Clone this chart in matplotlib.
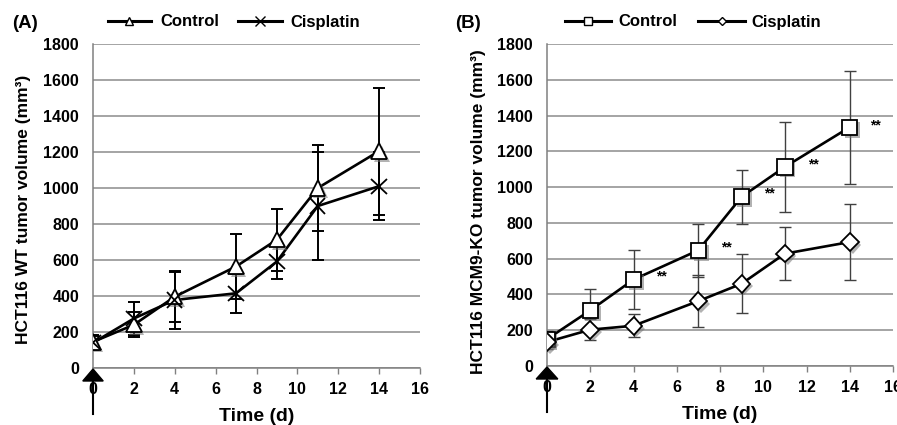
import numpy as np
import matplotlib
matplotlib.use('Agg')
import matplotlib.pyplot as plt
import matplotlib.patheffects as pe
from matplotlib.patches import Polygon
from matplotlib.lines import Line2D

plt.rcParams['font.family'] = ['Liberation Sans', 'DejaVu Sans']
plt.rcParams['font.weight'] = 'bold'

# data
days = [0, 2, 4, 7, 9, 11, 14]

wt_control = [145, 240, 396, 564, 713, 1000, 1205]
wt_control_err = [40, 70, 140, 182, 173, 240, 353]
wt_cis = [140, 275, 378, 415, 592, 900, 1010]
wt_cis_err = [40, 90, 160, 108, 100, 300, 190]

ko_control = [150, 311, 483, 647, 946, 1113, 1335]
ko_control_err = [45, 118, 165, 149, 150, 250, 315]
ko_cis = [134, 203, 225, 363, 460, 628, 693]
ko_cis_err = [40, 58, 65, 145, 165, 150, 215]

# significance marks (x, y) for panel B
star_x = [5.3, 8.3, 10.3, 12.3, 15.2]
star_y = [498, 660, 965, 1128, 1345]

xticks = list(range(0, 17, 2))
yticks = list(range(0, 1801, 200))

shadow = [pe.SimplePatchShadow(offset=(2, -2), shadow_rgbFace='0.45', alpha=0.55), pe.Normal()]

fig = plt.figure(figsize=(8.97, 4.25), dpi=100)
axA = fig.add_axes([93 / 897, 1 - 368 / 425, 327 / 897, 324 / 425])
axB = fig.add_axes([547 / 897, 1 - 366 / 425, 346 / 897, 322 / 425])


def series(ax, y, err, marker, ms, elw, ecol, cap):
    ax.errorbar(days, y, yerr=err, fmt='none', ecolor=ecol, elinewidth=elw,
                capsize=cap, capthick=elw, zorder=3)
    ax.plot(days, y, color='black', lw=1.9, zorder=4)
    ax.plot(days, y, ls='none', marker=marker, ms=ms, mfc='white', mec='black',
            mew=1.3, zorder=5, path_effects=shadow)


def style(ax, ylabel):
    ax.set_xlim(0, 16)
    ax.set_ylim(0, 1800)
    ax.set_xticks(xticks)
    ax.set_yticks(yticks)
    ax.grid(axis='y', color='0.55', lw=1.1, zorder=0)
    ax.set_axisbelow(True)
    for s in ['top', 'right']:
        ax.spines[s].set_visible(False)
    ax.spines['left'].set_color('0.5')
    ax.spines['bottom'].set_color('0.5')
    ax.spines['left'].set_linewidth(1.1)
    ax.spines['bottom'].set_linewidth(1.1)
    ax.tick_params(axis='y', length=0, pad=10, labelsize=11.5)
    ax.tick_params(axis='x', length=4, width=1, color='0.5', pad=6, labelsize=11.5)
    ax.set_xlabel('Time (d)', fontsize=14, fontweight='bold', labelpad=8)
    ax.set_ylabel(ylabel, fontsize=12.5, fontweight='bold')
    # injection arrow below day 0
    tr = ax.get_xaxis_transform()
    h = ax.get_position().height * 425
    tri = Polygon([[0, -1 / h], [-0.5, -13 / h], [0.5, -13 / h]], closed=True,
                  color='black', transform=tr, clip_on=False, zorder=6)
    ax.add_patch(tri)
    ax.plot([0, 0], [-13 / h, -46 / h], color='black', lw=1.5, transform=tr,
            clip_on=False, zorder=6)


# panel A
series(axA, wt_control, wt_control_err, '^', 11, 1.4, 'black', 4.5)
series(axA, wt_cis, wt_cis_err, 'x', 11, 1.4, 'black', 4.5)
style(axA, 'HCT116 WT tumor volume (mm³)')
axA.yaxis.set_label_coords(-0.19, 0.49)

# panel B
series(axB, ko_control, ko_control_err, 's', 11, 1.0, '0.25', 4)
series(axB, ko_cis, ko_cis_err, 'D', 9, 1.0, '0.25', 4)
style(axB, 'HCT116 MCM9-KO tumor volume (mm³)')
axB.yaxis.set_label_coords(-0.176, 0.478)
for sx, sy in zip(star_x, star_y):
    axB.text(sx, sy, '**', fontsize=10, fontweight='bold', ha='center', va='center')

# legends
hA = [Line2D([], [], color='black', lw=2.2, marker='^', ms=6, mfc='white', mec='black'),
      Line2D([], [], color='black', lw=2.2, marker='x', ms=7, mec='black')]
fig.legend(hA, ['Control', 'Cisplatin'], loc='center', bbox_to_anchor=(234 / 897, 1 - 22 / 425),
           ncol=2, frameon=False, fontsize=12, handlelength=2.6, columnspacing=1.15,
           handletextpad=0.55)
hB = [Line2D([], [], color='black', lw=2.2, marker='s', ms=6, mfc='white', mec='black'),
      Line2D([], [], color='black', lw=2.2, marker='D', ms=4, mfc='white', mec='black')]
fig.legend(hB, ['Control', 'Cisplatin'], loc='center', bbox_to_anchor=(693 / 897, 1 - 22 / 425),
           ncol=2, frameon=False, fontsize=12, handlelength=2.8, columnspacing=1.3,
           handletextpad=0.4)

fig.text(12 / 897, 1 - 24 / 425, '(A)', fontsize=13.5, fontweight='bold', va='center')
fig.text(455 / 897, 1 - 24 / 425, '(B)', fontsize=13.5, fontweight='bold', va='center')

fig.savefig('out.png', dpi=100)
